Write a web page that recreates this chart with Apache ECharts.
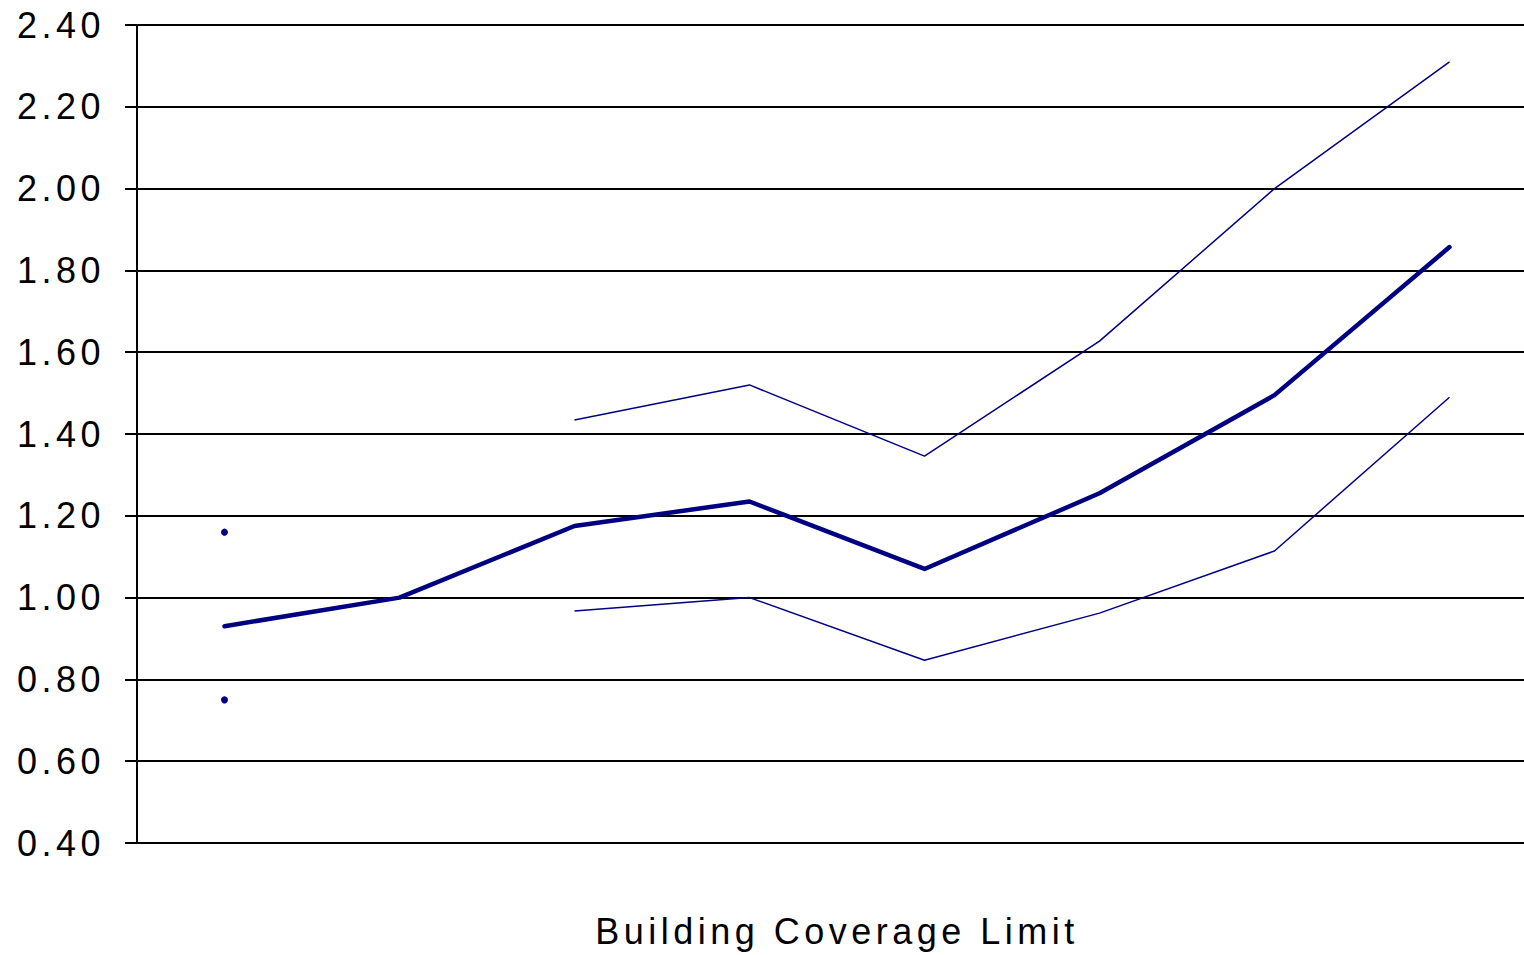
<!DOCTYPE html>
<html>
<head>
<meta charset="utf-8">
<title>Building Coverage Limit</title>
<script src="https://cdn.jsdelivr.net/npm/echarts@6/dist/echarts.min.js"></script>
<style>
  html, body { margin: 0; padding: 0; background: #fff; overflow: hidden; }
  /* the plot runs a little past the right edge of the window */
  #chart { width: 1537px; height: 955px; }
  /* wide tracking on every label */
  #chart text { letter-spacing: 4.5px; }
</style>
</head>
<body>
<div id="chart"></div>
<script>
// Coverage limit tiers along the horizontal axis (labels are not shown)
const limits = ['1', '2', '3', '4', '5', '6', '7', '8'];

// Point estimate and the upper / lower bounds for each tier
const estimate = [0.93, 1.00, 1.175, 1.235, 1.07, 1.255, 1.495, 1.857];
const upperBound = [1.16, null, 1.434, 1.52, 1.346, 1.627, 2.00, 2.31];
const lowerBound = [0.75, null, 0.967, 1.00, 0.847, 0.962, 1.114, 1.49];

// Vertical scale
const yMin = 0.40;
const yMax = 2.40;
const yStep = 0.20;

const navy = '#000080';
const font = '"Liberation Sans", Arial, sans-serif';

// A point with no neighbours cannot be seen as a line, so it gets a dot
function isolatedDot(arr) {
  return function (val, params) {
    const i = params.dataIndex;
    const prev = i > 0 ? arr[i - 1] : null;
    const next = i < arr.length - 1 ? arr[i + 1] : null;
    return (prev == null && next == null) ? 7 : 0;
  };
}

const chart = echarts.init(document.getElementById('chart'), null, { renderer: 'svg' });

chart.setOption({
  animation: false,
  backgroundColor: '#ffffff',
  grid: { left: 137, right: 0, top: 25, bottom: 112, containLabel: false },
  xAxis: {
    type: 'category',
    data: limits,
    boundaryGap: true,
    name: 'Building Coverage Limit',
    nameLocation: 'middle',
    nameGap: 70,
    nameTextStyle: { fontFamily: font, fontSize: 36, color: '#000' },
    axisLine: { show: false },
    axisTick: { show: false },
    axisLabel: { show: false },
    splitLine: { show: false }
  },
  yAxis: {
    type: 'value',
    min: yMin,
    max: yMax,
    interval: yStep,
    axisLine: { show: true, lineStyle: { color: '#000', width: 2 } },
    axisTick: { show: true, length: 12, inside: false, lineStyle: { color: '#000', width: 2 } },
    axisLabel: {
      margin: 32,
      fontFamily: font,
      fontSize: 36,
      color: '#000',
      formatter: v => v.toFixed(2)
    },
    splitLine: { show: true, lineStyle: { color: '#000', width: 2 } }
  },
  series: [
    {
      name: 'Upper',
      type: 'line',
      data: upperBound,
      connectNulls: false,
      symbol: 'circle',
      symbolSize: isolatedDot(upperBound),
      itemStyle: { color: navy },
      lineStyle: { color: navy, width: 1.5 },
      z: 3
    },
    {
      name: 'Lower',
      type: 'line',
      data: lowerBound,
      connectNulls: false,
      symbol: 'circle',
      symbolSize: isolatedDot(lowerBound),
      itemStyle: { color: navy },
      lineStyle: { color: navy, width: 1.5 },
      z: 3
    },
    {
      name: 'Estimate',
      type: 'line',
      data: estimate,
      showSymbol: false,
      lineStyle: { color: navy, width: 4.5, cap: 'round', join: 'round' },
      z: 4
    }
  ]
});
</script>
</body>
</html>
